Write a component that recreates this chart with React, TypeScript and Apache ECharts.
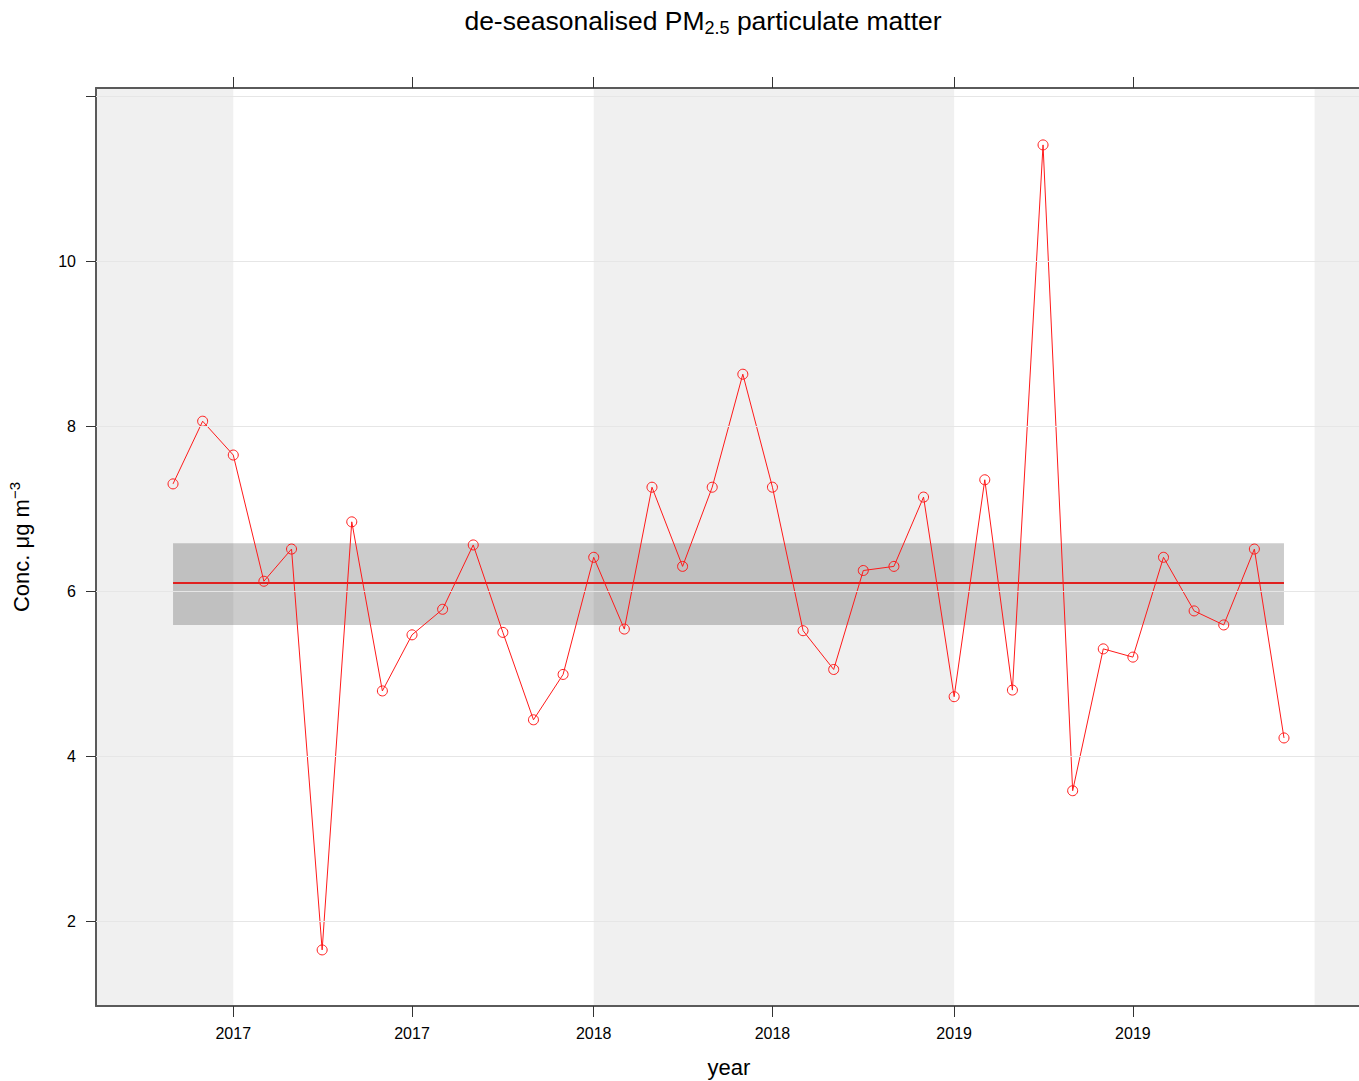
import React, { useEffect, useRef } from 'react';
import * as echarts from 'echarts';

const months = [
  '2016-11', '2016-12',
  '2017-01', '2017-02', '2017-03', '2017-04', '2017-05', '2017-06', '2017-07', '2017-08', '2017-09', '2017-10', '2017-11', '2017-12',
  '2018-01', '2018-02', '2018-03', '2018-04', '2018-05', '2018-06', '2018-07', '2018-08', '2018-09', '2018-10', '2018-11', '2018-12',
  '2019-01', '2019-02', '2019-03', '2019-04', '2019-05', '2019-06', '2019-07', '2019-08', '2019-09', '2019-10', '2019-11', '2019-12',
];
const concentration = [
  7.30, 8.06,
  7.65, 6.12, 6.51, 1.65, 6.84, 4.79, 5.47, 5.78, 6.56, 5.50, 4.44, 4.99,
  6.41, 5.54, 7.26, 6.30, 7.26, 8.63, 7.26, 5.52, 5.05, 6.25, 6.30, 7.14,
  4.72, 7.35, 4.80, 11.41, 3.58, 5.30, 5.20, 6.41, 5.76, 5.59, 6.51, 4.22,
];
const trendPeriod = ['2016-11', '2019-12'];
const trendValue = 6.1;
const trendLower = 5.59;
const trendUpper = 6.58;
const shadedYears = [2016, 2018, 2020];
const xTickMonths = ['2017-01', '2017-07', '2018-01', '2018-07', '2019-01', '2019-07'];
const yTicks = [2, 4, 6, 8, 10, 12];
const yTickLabels = ['2', '4', '6', '8', '10', ''];

const FONT = 'Liberation Sans, Arial, sans-serif';
const toTime = (ym: string) => Date.UTC(+ym.slice(0, 4), +ym.slice(5, 7) - 1, 1);
const X_MIN = Date.UTC(2016, 7, 15);
const X_MAX = Date.UTC(2020, 1, 18);
const Y_MIN = 0.97;
const Y_MAX = 12.1;

export default function App() {
  const ref = useRef<HTMLDivElement>(null);
  useEffect(() => {
    if (!ref.current) return;
    const chart = echarts.init(ref.current, undefined, { renderer: 'svg' });
    const xTicks = xTickMonths.map(toTime);
    const axisLineStyle = { color: '#5a5a5a', width: 2 };
    const tickStyle = { color: '#333', width: 1 };
    const t0 = toTime(trendPeriod[0]);
    const t1 = toTime(trendPeriod[1]);
    chart.setOption({
      animation: false,
      backgroundColor: '#ffffff',
      textStyle: { fontFamily: FONT },
      graphic: [
        {
          type: 'text',
          x: 703,
          y: 21,
          style: {
            text: '{m|de-seasonalised PM}{s|2.5}{m| particulate matter}',
            align: 'center',
            verticalAlign: 'middle',
            fill: '#000',
            rich: {
              m: { fontSize: 26.5, fontFamily: FONT, fill: '#000' },
              s: { fontSize: 18, fontFamily: FONT, fill: '#000', padding: [13, 0, 0, 0] },
            },
          },
        },
      ],
      grid: {
        left: 96,
        top: 88,
        width: 1266,
        height: 918,
        show: false,
        containLabel: false,
        outerBoundsMode: 'none',
      },
      xAxis: [
        {
          type: 'value',
          position: 'bottom',
          min: X_MIN,
          max: X_MAX,
          name: 'year',
          nameLocation: 'middle',
          nameGap: 50,
          nameTextStyle: { fontSize: 22, color: '#000', fontFamily: FONT },
          axisLine: { show: true, onZero: false, lineStyle: axisLineStyle },
          axisTick: { show: true, customValues: xTicks, length: 11, lineStyle: tickStyle },
          axisLabel: {
            customValues: xTicks,
            margin: 19,
            fontSize: 16,
            color: '#000',
            fontFamily: FONT,
            formatter: (v: number) => String(new Date(v).getUTCFullYear()),
          },
          splitLine: { show: false },
          z: 1,
        },
        {
          type: 'value',
          position: 'top',
          min: X_MIN,
          max: X_MAX,
          axisLine: { show: true, onZero: false, lineStyle: axisLineStyle },
          axisTick: { show: true, customValues: xTicks, length: 11, lineStyle: tickStyle },
          axisLabel: { show: false },
          splitLine: { show: false },
          z: 1,
        },
      ],
      yAxis: {
        type: 'value',
        min: Y_MIN,
        max: Y_MAX,
        name: '{a|Conc. μg m}{b|−3}',
        nameLocation: 'middle',
        nameGap: 60,
        nameTextStyle: {
          color: '#000',
          rich: {
            a: { fontSize: 22, fontFamily: FONT, color: '#000' },
            b: { fontSize: 15, fontFamily: FONT, color: '#000', padding: [0, 0, 14, 0] },
          },
        },
        axisLine: { show: true, onZero: false, lineStyle: axisLineStyle },
        axisTick: { show: true, customValues: yTicks, length: 10, lineStyle: tickStyle },
        axisLabel: {
          customValues: yTicks,
          margin: 20,
          fontSize: 16,
          color: '#000',
          fontFamily: FONT,
          formatter: (v: number) => yTickLabels[yTicks.indexOf(v)] ?? String(v),
        },
        splitLine: { show: false },
        z: 1,
      },
      series: [
        {
          name: 'years',
          type: 'line',
          data: [],
          silent: true,
          z: 0,
          markArea: {
            silent: true,
            itemStyle: { color: '#f0f0f0' },
            data: shadedYears.map((y) => [
              { xAxis: Math.max(X_MIN, Date.UTC(y, 0, 1)) },
              { xAxis: Math.min(X_MAX, Date.UTC(y + 1, 0, 1)) },
            ]),
          },
        },
        {
          name: 'grid',
          type: 'line',
          data: [],
          silent: true,
          z: 0.5,
          markLine: {
            silent: true,
            symbol: 'none',
            label: { show: false },
            lineStyle: { color: '#e6e6e6', width: 1, type: 'solid' },
            data: yTicks.map((v) => ({ yAxis: v })),
          },
        },
        {
          name: 'trend',
          type: 'line',
          data: [
            [t0, trendValue],
            [t1, trendValue],
          ],
          symbol: 'none',
          silent: true,
          z: 2,
          lineStyle: { color: '#e0201f', width: 2 },
          markArea: {
            silent: true,
            itemStyle: { color: 'rgba(0,0,0,0.2)' },
            data: [[{ coord: [t0, trendLower] }, { coord: [t1, trendUpper] }]],
          },
        },
        {
          name: 'PM2.5',
          type: 'line',
          data: months.map((m, i) => [toTime(m), concentration[i]]),
          symbol: 'circle',
          symbolSize: 10,
          z: 3,
          lineStyle: { color: '#ff1a1a', width: 1 },
          itemStyle: { color: 'rgba(0,0,0,0)', borderColor: '#ff1a1a', borderWidth: 1 },
        },
      ],
    });
    return () => chart.dispose();
  }, []);
  return <div ref={ref} style={{ position: 'fixed', left: 0, top: 0, width: 1359, height: 1081 }} />;
}
